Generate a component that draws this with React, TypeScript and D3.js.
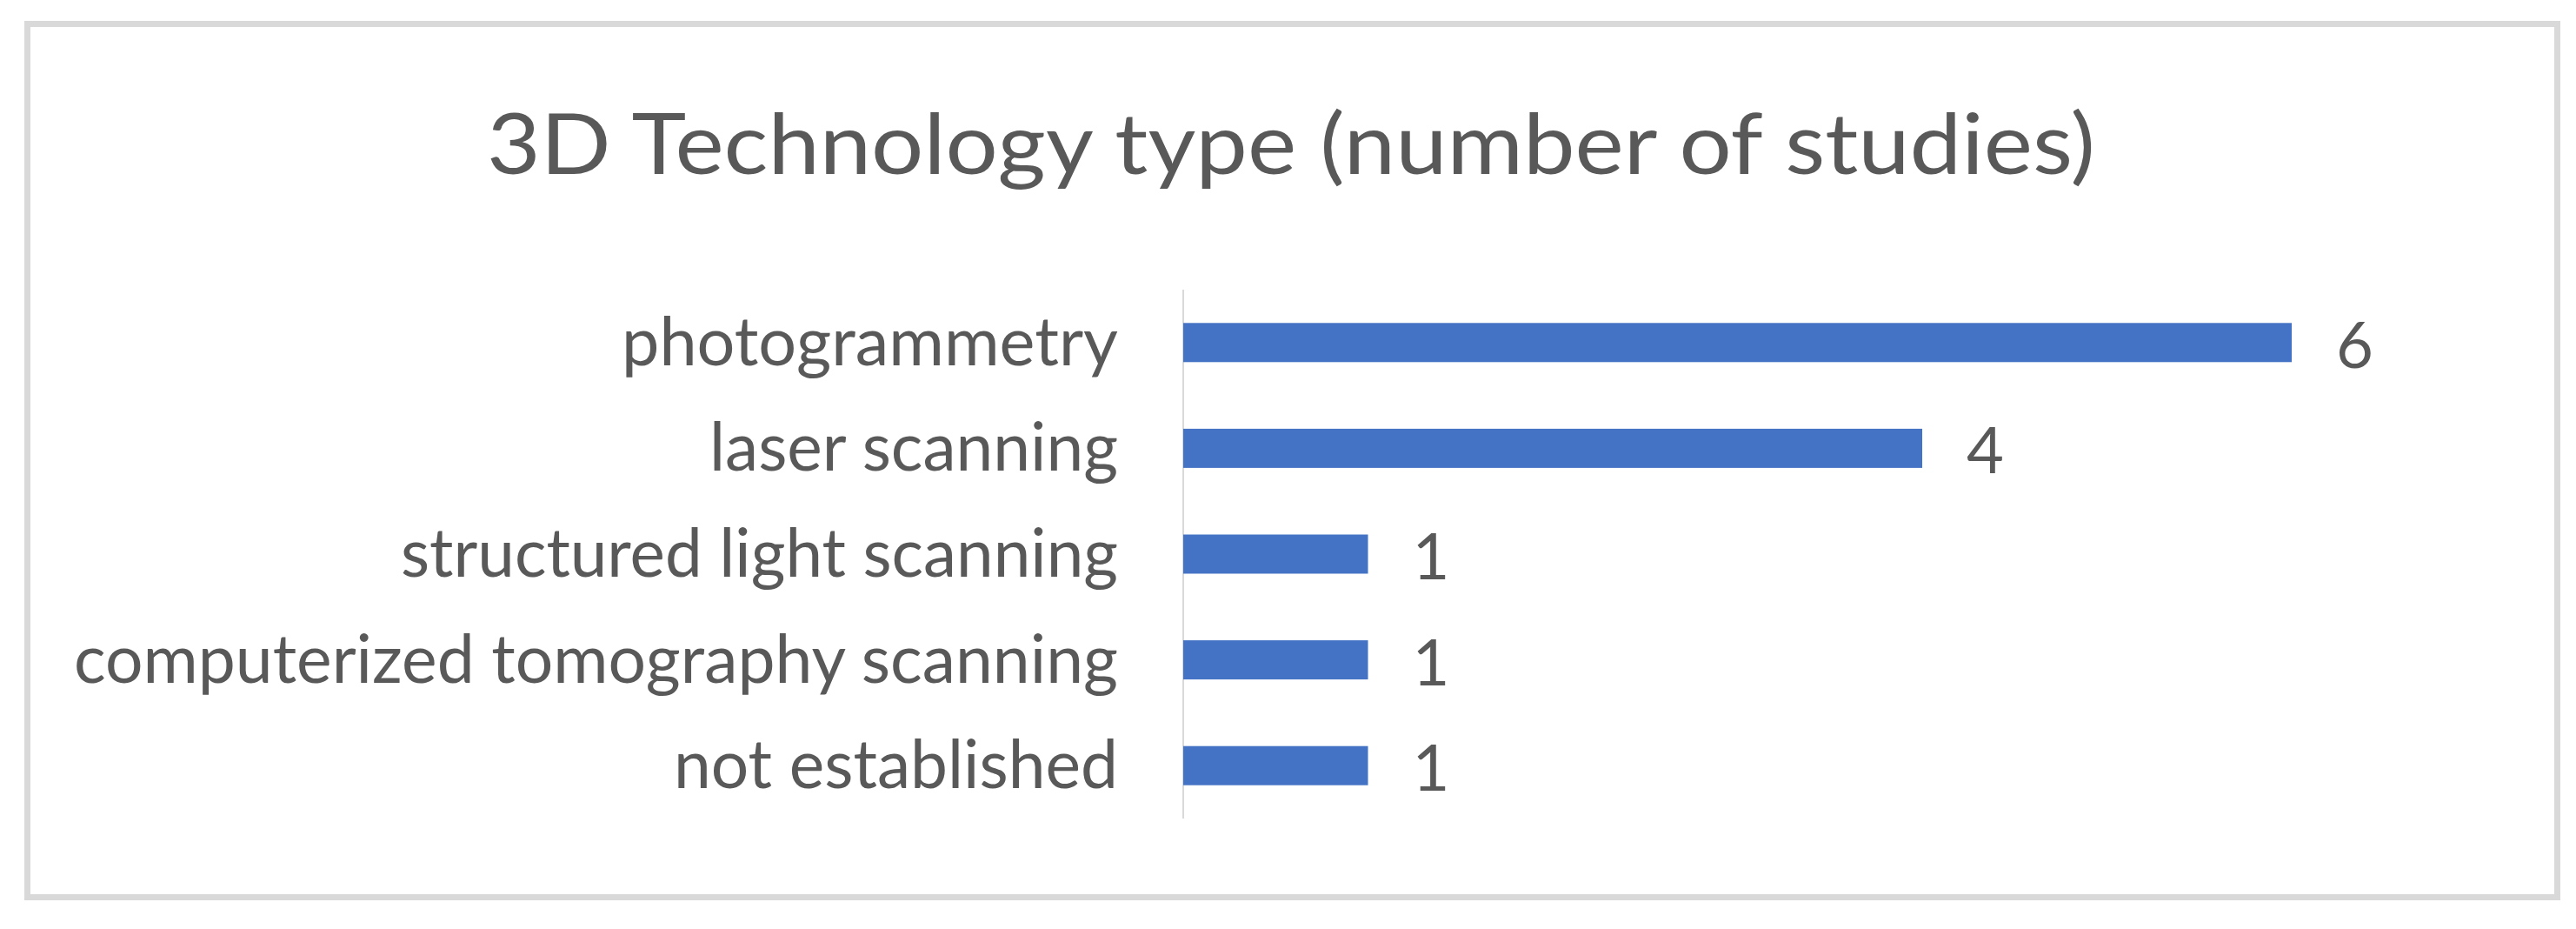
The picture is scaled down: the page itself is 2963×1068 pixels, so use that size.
import React from 'react';
import * as d3 from 'd3';

const title = '3D Technology type (number of studies)';
const categories = [
  'photogrammetry',
  'laser scanning',
  'structured light scanning',
  'computerized tomography scanning',
  'not established',
];
const studies = [6, 4, 1, 1, 1];
const xDomain = [0, 6];

// measured label widths, so the narrower Calibri look is kept
const labelWidths = [571, 470, 825, 1201, 511];

const W = 2963;
const H = 1068;
const font = 'Lato, "Open Sans", sans-serif';
const textColor = '#595959';

export default function App() {
  const y = d3
    .scaleBand()
    .domain(categories)
    .range([333, 941])
    .paddingInner(0.63)
    .paddingOuter(0.315);

  const x = d3.scaleLinear().domain(xDomain).range([1361, 2636]);

  return (
    <div style={{ position: 'absolute', left: 0, top: 0, background: '#fff' }}>
      <svg width={W} height={H} style={{ display: 'block' }}>
        <rect x={0} y={0} width={W} height={H} fill='#ffffff' />
        {/* chart frame */}
        <rect
          x={31.5}
          y={27.5}
          width={2910}
          height={1004}
          fill='#ffffff'
          stroke='#d9d9d9'
          strokeWidth={7}
        />
        <text
          x={560}
          y={200}
          fontFamily={font}
          fontSize={97}
          fill={textColor}
          textLength={1850}
          lengthAdjust='spacingAndGlyphs'
        >
          {title}
        </text>

        {/* category axis line */}
        <line
          x1={x(0)}
          x2={x(0)}
          y1={y.range()[0]}
          y2={y.range()[1]}
          stroke='#d9d9d9'
          strokeWidth={2}
        />

        {categories.map((c, i) => {
          const by = y(c) as number;
          const cy = by + y.bandwidth() / 2;
          return (
            <g key={c}>
              <text
                x={1286}
                y={cy + 26}
                textAnchor='end'
                fontFamily={font}
                fontSize={77}
                fill={textColor}
                textLength={labelWidths[i]}
                lengthAdjust='spacingAndGlyphs'
              >
                {c}
              </text>
              <rect
                x={x(0)}
                y={by}
                width={x(studies[i]) - x(0)}
                height={y.bandwidth()}
                fill='#4472c4'
              />
              <text
                x={x(studies[i]) + 51}
                y={cy + 29}
                fontFamily={font}
                fontSize={74}
                fill={textColor}
              >
                {studies[i]}
              </text>
            </g>
          );
        })}
      </svg>
    </div>
  );
}
